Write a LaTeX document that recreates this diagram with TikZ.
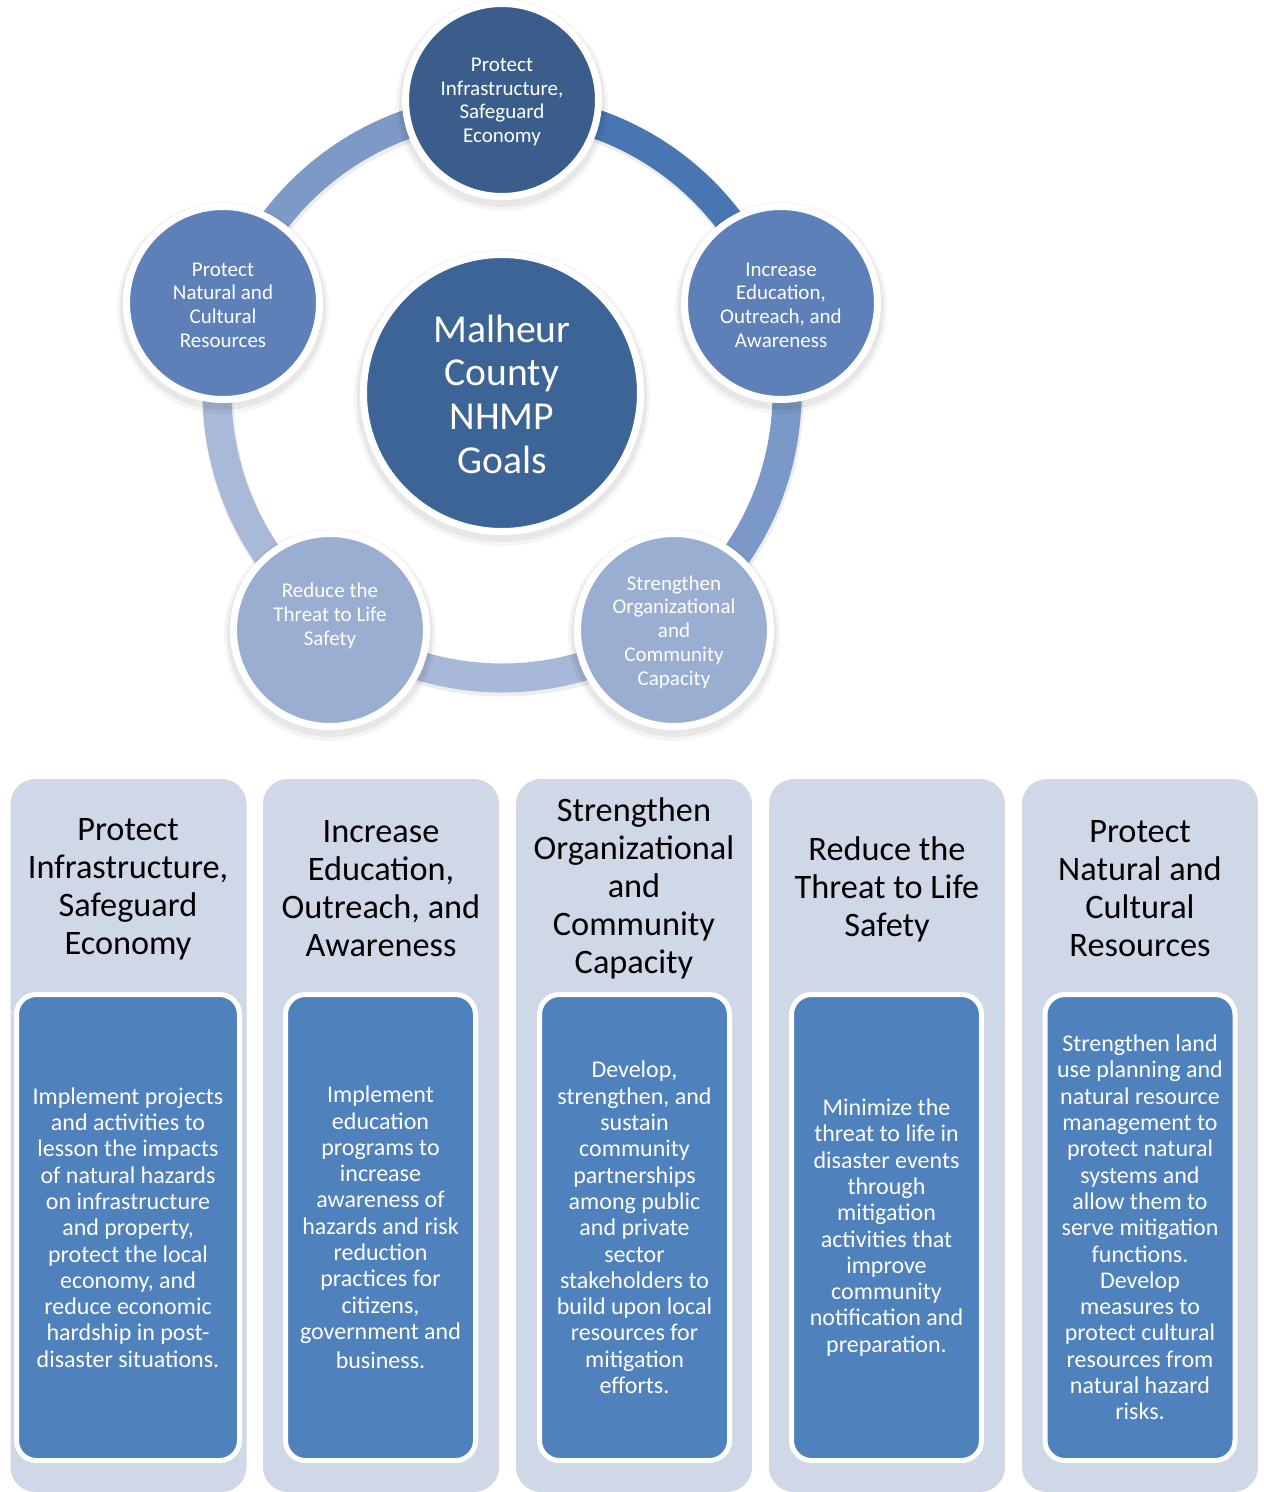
\documentclass[tikz,border=0pt]{standalone}
\usepackage{fontspec}
\setmainfont{Carlito}
\definecolor{centerfill}{HTML}{3C6496}
\definecolor{topfill}{HTML}{3A5D8B}
\definecolor{midfill}{HTML}{5C80B7}
\definecolor{lowfill}{HTML}{9AAED1}
\definecolor{arcA}{HTML}{4876B2}
\definecolor{arcB}{HTML}{7B99C8}
\definecolor{arcC}{HTML}{A7B8D8}
\definecolor{arcD}{HTML}{A9B9D8}
\definecolor{arcE}{HTML}{7D9AC7}
\definecolor{colbg}{HTML}{D0D8E8}
\definecolor{boxfill}{HTML}{4F81BD}
\tikzset{
  satcircle/.style={circle, draw=white, line width=7pt, minimum size=193pt, inner sep=0pt},
  centercircle/.style={circle, draw=white, line width=7pt, minimum size=277pt, inner sep=0pt,
    fill=centerfill},
  circtext/.style={text=white, align=center, font=\fontsize{21}{23.7}\selectfont, inner sep=0pt},
  centertext/.style={text=white, align=center, font=\fontsize{39.6}{43.7}\selectfont, inner sep=0pt},
  ringarc/.style={line width=29pt},
  ringshadow/.style={line width=31pt, black, opacity=0.07},
  colbox/.style={rectangle, rounded corners=25pt, fill=colbg, minimum width=236pt, minimum height=713pt, inner sep=0pt},
  descbox/.style={rectangle, rounded corners=20pt, fill=boxfill, draw=white, line width=5pt,
    minimum height=466pt, inner sep=0pt, text=white, align=center, font=\fontsize{24}{26.3}\selectfont},
  heading/.style={text=black, align=center, font=\fontsize{34.3}{38}\selectfont, inner sep=0pt},
}
\newcommand{\circshadow}[3]{%
  \fill[black, opacity=0.04] (#1,#2+5) circle (#3+6);
  \fill[black, opacity=0.06] (#1,#2+4) circle (#3+3);
}
\begin{document}
\begin{tikzpicture}[x=1pt,y=-1pt]
\useasboundingbox (0,0) rectangle (1264,1492);
% ring arcs (shadows then arcs)
\foreach \a/\b in {-90/-18,-18/54,54/126,126/198,198/270}{
  \draw[ringshadow] ([shift={(503,396)}]\a:285) arc[start angle=\a, end angle=\b, radius=285];
}
\draw[ringarc, arcA] ([shift={(502,393)}]-90:285) arc[start angle=-90, end angle=-18, radius=285];
\draw[ringarc, arcB] ([shift={(502,393)}]-18:285) arc[start angle=-18, end angle=54, radius=285];
\draw[ringarc, arcC] ([shift={(502,393)}]54:285) arc[start angle=54, end angle=126, radius=285];
\draw[ringarc, arcD] ([shift={(502,393)}]126:285) arc[start angle=126, end angle=198, radius=285];
\draw[ringarc, arcE] ([shift={(502,393)}]198:285) arc[start angle=198, end angle=270, radius=285];
% shadows of circles
\circshadow{502}{100}{100}
\circshadow{781}{303}{100}
\circshadow{674}{630}{100}
\circshadow{330}{630}{100}
\circshadow{223}{303}{100}
\circshadow{502}{393}{142}
% satellite circles
\node[satcircle, fill=topfill] (ctop) at (502,100) {};
\node[circtext] (ctoptext) at (502,102) {Protect\\Infrastructure,\\Safeguard\\Economy};
\node[satcircle, fill=midfill] (cright) at (781,303) {};
\node[circtext] (crighttext) at (781,305) {Increase\\Education,\\Outreach, and\\Awareness};
\node[satcircle, fill=lowfill] (cbr) at (674,630) {};
\node[circtext] (cbrtext) at (674,632) {Strengthen\\Organizational\\and\\Community\\Capacity};
\node[satcircle, fill=lowfill] (cbl) at (330,630) {};
\node[circtext] (cbltext) at (330,616) {Reduce the\\Threat to Life\\Safety};
\node[satcircle, fill=midfill] (cleft) at (223,303) {};
\node[circtext] (clefttext) at (223,305) {Protect\\Natural and\\Cultural\\Resources};
% center
\node[centercircle] (center) at (502,393) {};
\node[centertext] (centertxt) at (502,394) {Malheur\\County\\NHMP\\Goals};
% columns
\node[colbox] (col1) at (128.5,1135.5) {};
\node[colbox] (col2) at (381,1135.5) {};
\node[colbox] (col3) at (634,1135.5) {};
\node[colbox] (col4) at (887,1135.5) {};
\node[colbox] (col5) at (1140,1135.5) {};
\node[heading] (h1) at (128,889) {Protect\\Infrastructure,\\Safeguard\\Economy};
\node[heading] (h2) at (381,889) {Increase\\Education,\\Outreach, and\\Awareness};
\node[heading] (h3) at (634,888) {Strengthen\\Organizational\\and\\Community\\Capacity};
\node[heading] (h4) at (887,889) {Reduce the\\Threat to Life\\Safety};
\node[heading] (h5) at (1140,889) {Protect\\Natural and\\Cultural\\Resources};
\node[descbox, minimum width=223pt] (b1) at (128,1227.5) {Implement projects\\and activities to\\lesson the impacts\\of natural hazards\\on infrastructure\\and property,\\protect the local\\economy, and\\reduce economic\\hardship in post-\\disaster situations.};
\node[descbox, minimum width=190pt] (b2) at (380.5,1227.5) {Implement\\education\\programs to\\increase\\awareness of\\hazards and risk\\reduction\\practices for\\citizens,\\government and\\[3pt]business.};
\node[descbox, minimum width=190pt] (b3) at (634.5,1227.5) {Develop,\\strengthen, and\\sustain\\community\\partnerships\\among public\\and private\\sector\\stakeholders to\\build upon local\\resources for\\mitigation\\efforts.};
\node[descbox, minimum width=190pt] (b4) at (886.5,1227.5) {Minimize the\\threat to life in\\disaster events\\through\\mitigation\\activities that\\improve\\community\\notification and\\preparation.};
\node[descbox, minimum width=190pt] (b5) at (1140,1227.5) {Strengthen land\\use planning and\\natural resource\\management to\\protect natural\\systems and\\allow them to\\serve mitigation\\functions.\\Develop\\measures to\\protect cultural\\resources from\\natural hazard\\risks.};
\end{tikzpicture}
\end{document}
